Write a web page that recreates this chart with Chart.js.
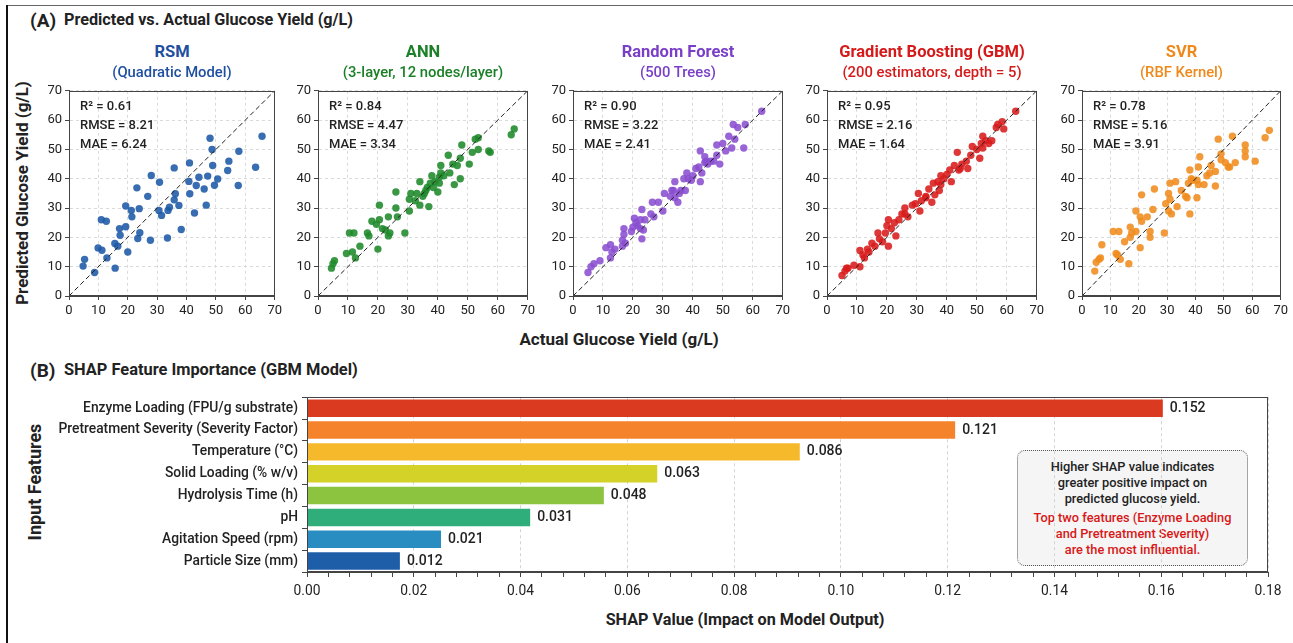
<!DOCTYPE html>
<html>
<head>
<meta charset="utf-8">
<script src="https://cdn.jsdelivr.net/npm/chart.js@4.4.1/dist/chart.umd.min.js"></script>
<style>
  body { margin: 0; background: #fff; font-family: Roboto, "Noto Sans", sans-serif; color: #222; }
  #page { position: relative; width: 1293px; height: 643px; overflow: hidden; }
  #page canvas { position: absolute; }
  .t { position: absolute; white-space: nowrap; line-height: 1; }
  .c { transform: translate(-50%, -50%); }
  .l { transform: translate(0, -50%); }
  .r { transform: translate(-50%, -50%) rotate(-90deg); }
  #frameTop { position: absolute; left: 7px; top: 5px; width: 1286px; height: 0; border-top: 1.5px solid #666; }
  #frameLeft { position: absolute; left: 6px; top: 5px; width: 0; height: 640px; border-left: 2px solid #111; }
  #note { position: absolute; left: 1017px; top: 450px; width: 229px; height: 114px;
          border: 1px dotted #555; border-radius: 8px; background: #f5f5f5;
          font-size: 12.8px; font-weight: 500; text-align: center; line-height: 16px; }
</style>
</head>
<body>
<div id="page">
  <div id="frameTop"></div>
  <div id="frameLeft"></div>
  <div id="note">
    <div style="margin-top:8px;color:#222">Higher SHAP value indicates<br>greater positive impact on<br>predicted glucose yield.</div>
    <div style="margin-top:3px;color:#d81818">Top two features (Enzyme Loading<br>and Pretreatment Severity)<br>are the most influential.</div>
  </div>
</div>
<script>
// ---- panel (A) data: [actual, predicted] ----
const rsmPoints = [[4.8,10.2],[5.3,12.5],[8.7,8],[9.9,16.4],[11.2,15.6],[11,26],[12.7,25.5],[12.9,13],[15.6,17.9],[15.7,9.5],
  [16.6,17],[17.2,23],[17.4,20.7],[19.3,23.6],[19.3,30.7],[20,15],[21.2,29.2],[21.4,27],[23.1,36.9],[23.4,19.6],
  [23.9,29.8],[24.1,21.6],[26.8,34],[28,41.1],[27.7,19],[30.6,29.2],[30.8,38.8],[31.5,27.5],[33.5,19.8],[33.7,29.2],
  [34.2,30.3],[35.8,43.7],[35.8,32.8],[36.2,34.9],[37.4,30.9],[38.2,22.7],[40.8,39.1],[41,45.4],[41.1,34.9],[42.7,28.3],
  [43.3,37.7],[44.2,40.5],[46,36.5],[46.7,31],[47.2,40.9],[48,53.8],[48.7,50],[48.9,44.5],[49.5,37.8],[50.6,39.9],
  [54,42.8],[54.4,46],[57.6,37.7],[57.8,49.4],[63.5,43.9],[65.7,54.5]];
const annPoints = [[4.5,9.5],[5,11],[5.5,12],[9.5,14.5],[10.5,21.5],[12,21.5],[11.5,15],[12.5,13],[14,17],[16.5,21.5],
  [17,20.5],[18,25.5],[19.5,24.5],[20,16],[20.5,26],[20.5,31],[21.5,23],[22.5,22.5],[23.5,27],[23.5,20.5],
  [24,21.5],[26,35.5],[26,30],[26.5,27],[29,21.5],[30.5,29],[30.5,33],[31,35],[32.5,32.5],[33,35],
  [34,31],[34,39],[35,34],[35.5,35],[36.5,37],[37,30.5],[37.5,38.5],[38,41],[39,39],[40,35.5],
  [40.5,38.5],[40.5,40.5],[41,44.5],[41,42],[43.5,48],[44,42],[45,45],[45.5,38],[46.5,44.5],[47.5,40],
  [47.5,47],[48,51.5],[50.5,45],[51.5,49],[52.5,53.5],[53.5,54],[53.5,50],[57,49.5],[57.5,49],[64.5,55],
  [65.5,57],[38.5,37],[36,36],[42,41]];
const rfPoints = [[5,8],[6,10],[7,11],[9,12],[11,16.5],[12.5,17.5],[12.5,13],[13,15],[14,16],[16.5,17],
  [16.5,19],[17,21],[17,23],[17.5,18],[20,23.5],[20.5,26.5],[21,25],[21.5,24],[22.5,23],[22.5,26],
  [23,19.5],[23,29.5],[23.5,22.5],[24,26],[26,28],[26.5,32],[27,27],[28.5,32],[30,29],[30.5,35],
  [32.5,34],[33.5,36],[34,39],[34,33.5],[35,32],[35.5,35],[36,36],[37,40],[37.5,36],[38,42],
  [38.5,40],[39.5,39.5],[40,41],[41,43.5],[42,44],[42.5,39],[42.5,49.5],[43,42],[44,45.5],[44.5,46],
  [46,46],[47,46],[48,51.5],[48,48],[49,45],[50,52],[51,49.5],[52,54.5],[53,50.5],[53.5,58.5],
  [54,53.5],[55,57.5],[57,50.5],[57.5,58.5],[63,63],[19.5,22],[33,36],[45,45],[44,47.5]];
const gbmPoints = [[5,7],[6,8.5],[6.5,9.5],[7,9.5],[9,10.5],[11,10],[11,15.5],[12,14],[12.5,13],[13.5,16],
  [15,18],[16,17],[17,21.5],[17.5,19.5],[18.5,18.5],[19.5,21.5],[20,24],[20.5,26],[20.5,17],[21.5,23],
  [22.5,25],[23,20.5],[25,28],[26,30],[27,27],[28.5,31],[29.5,31.5],[30.5,35],[31,29],[31.5,32.5],
  [33,33.5],[34,36.5],[35,32],[35.5,38.5],[36,34.5],[37,39],[37.5,36],[38,41],[39,40],[40,41.5],
  [41,43],[41.5,39],[42.5,44.5],[43.5,49],[44,43],[44.5,43.5],[45,45],[46.5,46],[47,43.5],[48,48],
  [48.5,51],[50,50],[51,47],[51.5,52],[52,54.5],[52,50.5],[53,53],[54,52],[55,53],[56.5,57.5],
  [57,58.5],[58.5,59.5],[59,57],[63,63],[33,34],[38,38],[26,28],[14,15],[24,26]];
const svrPoints = [[4.5,8.5],[5,11.5],[6,12.5],[6.5,13],[7,17.5],[11,22],[12,14.5],[12.5,14],[13,22],[13.5,12.5],
  [15,18.5],[16.5,11],[17,23.5],[17,20],[17.5,21.5],[19,22],[19,29],[20.5,27],[20.5,16.5],[21,34.5],
  [21,25.5],[23,27],[24,20],[24,22],[25,29.5],[25.5,36.5],[29,21.5],[29.5,31.5],[30.5,35],[30.5,29],
  [31,33],[31,38.5],[31.5,28],[33,39],[33.5,30.5],[35,36],[36.5,34],[37,33.5],[37.5,38.5],[38,28],
  [38,43],[38.5,40],[39,39.5],[40.5,39.5],[40.5,33.5],[41,44],[41,38],[41.5,47.5],[43,38],[44,41],
  [45,42],[45.5,44.5],[47,42.5],[47,37.5],[48,53.5],[49,46.5],[49,48.5],[50.5,45.5],[51.5,44],[52,44],
  [53,54.5],[54,45.5],[57.5,47.5],[57.5,49.5],[57.5,51.5],[61,46],[64.5,54],[66,56.5]];

const modelNames = ['RSM', 'ANN', 'Random Forest', 'Gradient Boosting (GBM)', 'SVR'];
const modelSubs = ['(Quadratic Model)', '(3-layer, 12 nodes/layer)', '(500 Trees)', '(200 estimators, depth = 5)', '(RBF Kernel)'];
const r2 = [0.61, 0.84, 0.90, 0.95, 0.78];
const rmse = [8.21, 4.47, 3.22, 2.16, 5.16];
const mae = [6.24, 3.34, 2.41, 1.64, 3.91];
const diagLine = [0, 70];
const axisTicks = [0, 10, 20, 30, 40, 50, 60, 70];

// ---- panel (B) data ----
const features = ['Enzyme Loading (FPU/g substrate)', 'Pretreatment Severity (Severity Factor)', 'Temperature (°C)',
  'Solid Loading (% w/v)', 'Hydrolysis Time (h)', 'pH', 'Agitation Speed (rpm)', 'Particle Size (mm)'];
const shapBars = [0.1603, 0.1214, 0.0923, 0.0656, 0.0556, 0.0418, 0.0251, 0.0174];  // bar lengths as drawn
const shapPrinted = [0.152, 0.121, 0.086, 0.063, 0.048, 0.031, 0.021, 0.012];       // values printed beside bars

const FONT = 'Roboto, "Noto Sans", sans-serif';
const page = document.getElementById('page');

function addText(txt, x, y, cls, css) {
  const d = document.createElement('div');
  d.className = 't ' + cls;
  d.textContent = txt;
  d.style.left = x + 'px';
  d.style.top = y + 'px';
  Object.assign(d.style, css || {});
  page.appendChild(d);
}

function addCanvas(left, top, w, h) {
  const cv = document.createElement('canvas');
  cv.width = w; cv.height = h;
  cv.style.left = left + 'px'; cv.style.top = top + 'px';
  cv.style.width = w + 'px'; cv.style.height = h + 'px';
  page.appendChild(cv);
  return cv;
}

const boxPlugin = {
  id: 'box',
  afterDraw(chart) {
    const a = chart.chartArea, ctx = chart.ctx;
    ctx.save();
    ctx.strokeStyle = '#444';
    ctx.lineWidth = 1;
    ctx.strokeRect(Math.round(a.left) + 0.5, Math.round(a.top) + 0.5,
      Math.round(a.right - a.left) - 1, Math.round(a.bottom - a.top) - 1);
    ctx.restore();
  }
};

// headings
addText('(A)', 30, 20, 'l', { fontSize: '19px', fontWeight: 'bold' });
addText('Predicted vs. Actual Glucose Yield (g/L)', 64, 20, 'l', { fontSize: '16.2px', fontWeight: 'bold' });
addText('(B)', 30, 370, 'l', { fontSize: '19px', fontWeight: 'bold' });
addText('SHAP Feature Importance (GBM Model)', 64, 370, 'l', { fontSize: '16.4px', fontWeight: 'bold' });
addText('Predicted Glucose Yield (g/L)', 22, 193, 'r', { fontSize: '17px', fontWeight: 'bold' });
addText('Actual Glucose Yield (g/L)', 619, 339, 'c', { fontSize: '17px', fontWeight: 'bold' });
addText('Input Features', 35, 482, 'r', { fontSize: '18px', fontWeight: 'bold' });
addText('SHAP Value (Impact on Model Output)', 745, 620, 'c', { fontSize: '16.2px', fontWeight: 'bold' });

// scatter panels
const allPoints = [rsmPoints, annPoints, rfPoints, gbmPoints, svrPoints];
const colors = ['#1d5aa6', '#1f8a2b', '#8a4fd0', '#d81b1b', '#f08c1e'];
const titleColors = ['#1f4f9f', '#1b8028', '#7a3fc6', '#d41a1a', '#ee8a1c'];
const plotLeft = [69, 318, 573, 827, 1082];
const plotRight = [275, 528, 783, 1037, 1281];

allPoints.forEach((pts, i) => {
  const L = plotLeft[i], R = plotRight[i];
  const w = R - L + 50, h = 240;
  const cv = addCanvas(L - 40, 80, w, h);
  const cx = (L + R) / 2;
  addText(modelNames[i], cx, 52, 'c', { fontSize: '16.5px', fontWeight: 'bold', color: titleColors[i] });
  addText(modelSubs[i], cx, 72, 'c', { fontSize: '14.8px', fontWeight: 500, color: titleColors[i] });
  addText('R² = ' + r2[i].toFixed(2), L + 11, 105, 'l', { fontSize: '13px', fontWeight: 500 });
  addText('RMSE = ' + rmse[i].toFixed(2), L + 11, 124, 'l', { fontSize: '13px', fontWeight: 500 });
  addText('MAE = ' + mae[i].toFixed(2), L + 11, 143, 'l', { fontSize: '13px', fontWeight: 500 });

  const axis = (fit) => ({
    type: 'linear', min: axisTicks[0], max: axisTicks[axisTicks.length - 1],
    ticks: { stepSize: 10, color: '#222', font: { size: 13, family: FONT }, padding: 3, maxRotation: 0 },
    grid: { color: '#dadada', tickColor: '#444', tickLength: 4 },
    border: { color: '#444', dash: [3, 3] },
    afterFit: fit
  });

  new Chart(cv, {
    type: 'scatter',
    data: {
      datasets: [
        { type: 'line', data: diagLine.map(v => ({ x: v, y: v })), borderColor: '#222', borderWidth: 1,
          borderDash: [5, 3], pointRadius: 0, order: 0 },
        { data: pts.map(p => ({ x: p[0], y: p[1] })), backgroundColor: colors[i] + 'e0',
          pointRadius: 3.7, borderWidth: 0, order: 1 }
      ]
    },
    options: {
      responsive: false, animation: false, events: [],
      plugins: { legend: { display: false }, tooltip: { enabled: false } },
      layout: { padding: { top: 10, right: 10, left: 0, bottom: 0 } },
      scales: {
        x: axis(s => { s.height = 24; }),
        y: axis(s => { s.width = 40; })
      }
    },
    plugins: [boxPlugin]
  });
});

// SHAP bar chart
const barColors = ['#d93a20', '#f5832b', '#f6b92c', '#d4d129', '#8cc43f', '#2fae7b', '#2a8dc2', '#1e5ea8'];
const isMajor = v => Math.abs(v * 50 - Math.round(v * 50)) < 1e-6;

const valueLabels = {
  id: 'valueLabels',
  afterDatasetsDraw(chart) {
    const ctx = chart.ctx;
    ctx.save();
    ctx.font = '500 14px ' + FONT;
    ctx.fillStyle = '#222';
    ctx.textBaseline = 'middle';
    chart.getDatasetMeta(0).data.forEach((bar, i) => {
      ctx.fillText(shapPrinted[i].toFixed(3), bar.x + 7, bar.y);
    });
    ctx.restore();
  }
};

const cvB = addCanvas(50, 385, 1243, 227);
new Chart(cvB, {
  type: 'bar',
  data: {
    labels: features,
    datasets: [{ data: shapBars, backgroundColor: barColors, barPercentage: 0.8, categoryPercentage: 1 }]
  },
  options: {
    indexAxis: 'y',
    responsive: false, animation: false, events: [],
    plugins: { legend: { display: false }, tooltip: { enabled: false } },
    layout: { padding: { top: 8, right: 25, left: 0, bottom: 0 } },
    scales: {
      x: {
        min: 0, max: 0.18,
        ticks: { stepSize: 0.004, autoSkip: false, maxRotation: 0, color: '#222', padding: 6,
                 font: { size: 13.8, family: FONT },
                 callback: v => isMajor(v) ? v.toFixed(2) : '' },
        grid: { color: c => (c.tick && isMajor(c.tick.value)) ? '#d2d2d2' : 'rgba(0,0,0,0)',
                tickColor: '#444', tickLength: 5 },
        border: { color: '#444', dash: [3, 3] },
        afterFit: s => { s.height = 40; }
      },
      y: {
        ticks: { color: '#222', padding: 4, font: { size: 13.8, family: FONT, weight: 500 } },
        grid: { drawOnChartArea: false, tickColor: '#444', tickLength: 5 },
        border: { color: '#444' },
        afterFit: s => { s.width = 257; }
      }
    }
  },
  plugins: [boxPlugin, valueLabels]
});
</script>
</body>
</html>
